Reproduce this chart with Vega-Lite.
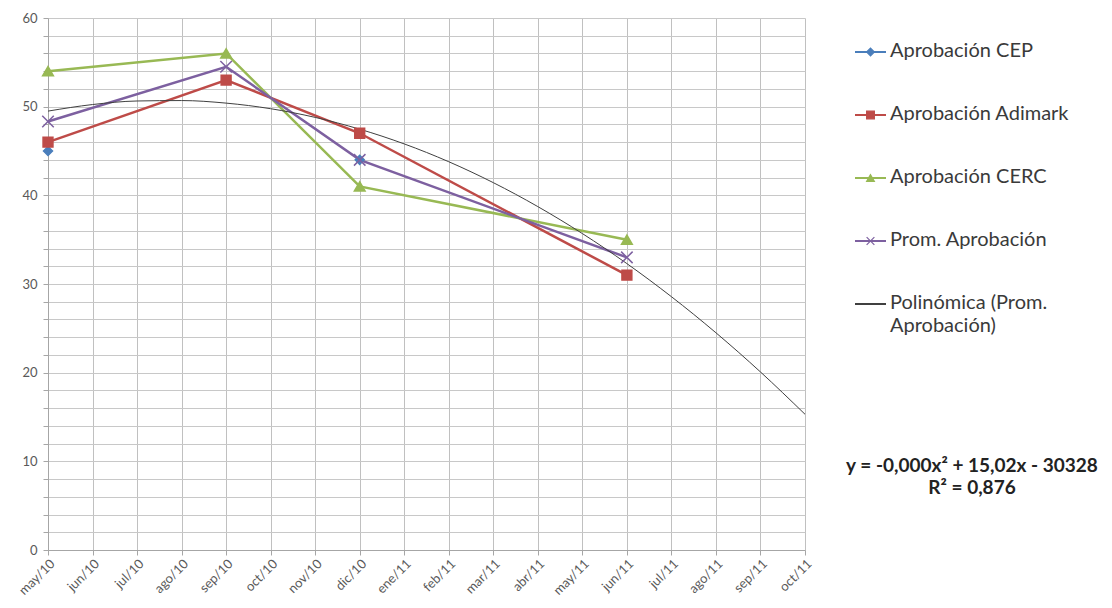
{
  "$schema": "https://vega.github.io/schema/vega-lite/v6.json",
  "padding": {"left": 16, "top": 12, "right": 0, "bottom": 0},
  "spacing": 30,
  "config": {
    "view": {"stroke": null},
    "font": "Lato",
    "axis": {"labelFont": "Lato", "labelFontSize": 13, "labelColor": "#595959", "domainColor": "#a6a6a6", "tickColor": "#a6a6a6", "gridColor": "#c8c8c8", "gridWidth": 1, "title": null}
  },
  "datasets": {
    "obs": [
      {"month": "may/10", "series": "Aprobación CEP", "value": 45},
      {"month": "dic/10", "series": "Aprobación CEP", "value": 44},
      {"month": "may/10", "series": "Aprobación Adimark", "value": 46},
      {"month": "sep/10", "series": "Aprobación Adimark", "value": 53},
      {"month": "dic/10", "series": "Aprobación Adimark", "value": 47},
      {"month": "jun/11", "series": "Aprobación Adimark", "value": 31},
      {"month": "may/10", "series": "Aprobación CERC", "value": 54},
      {"month": "sep/10", "series": "Aprobación CERC", "value": 56},
      {"month": "dic/10", "series": "Aprobación CERC", "value": 41},
      {"month": "jun/11", "series": "Aprobación CERC", "value": 35},
      {"month": "may/10", "series": "Prom. Aprobación", "value": 48.33},
      {"month": "sep/10", "series": "Prom. Aprobación", "value": 54.5},
      {"month": "dic/10", "series": "Prom. Aprobación", "value": 44},
      {"month": "jun/11", "series": "Prom. Aprobación", "value": 33}
    ],
    "trend": [
      {"month": "may/10", "value": 49.5},
      {"month": "jun/10", "value": 50.24},
      {"month": "jul/10", "value": 50.64},
      {"month": "ago/10", "value": 50.69},
      {"month": "sep/10", "value": 50.4},
      {"month": "oct/10", "value": 49.77},
      {"month": "nov/10", "value": 48.79},
      {"month": "dic/10", "value": 47.46},
      {"month": "ene/11", "value": 45.8},
      {"month": "feb/11", "value": 43.79},
      {"month": "mar/11", "value": 41.43},
      {"month": "abr/11", "value": 38.73},
      {"month": "may/11", "value": 35.69},
      {"month": "jun/11", "value": 32.3},
      {"month": "jul/11", "value": 28.57},
      {"month": "ago/11", "value": 24.5},
      {"month": "sep/11", "value": 20.08},
      {"month": "oct/11", "value": 15.31}
    ],
    "legend": [
      {"series": "Aprobación CEP", "label": "Aprobación CEP"},
      {"series": "Aprobación Adimark", "label": "Aprobación Adimark"},
      {"series": "Aprobación CERC", "label": "Aprobación CERC"},
      {"series": "Prom. Aprobación", "label": "Prom. Aprobación"},
      {"series": "Polinómica (Prom. Aprobación)", "label": ["Polinómica (Prom.", "Aprobación)"]},
      {"series": "eq", "label": ["y = -0,000x² + 15,02x - 30328", "R² = 0,876"]}
    ]
  },
  "hconcat": [
    {
      "width": 757,
      "height": 532,
      "encoding": {
        "x": {"field": "month", "type": "nominal", "sort": null,
          "scale": {"type": "point", "padding": 0, "domain": ["may/10","jun/10","jul/10","ago/10","sep/10","oct/10","nov/10","dic/10","ene/11","feb/11","mar/11","abr/11","may/11","jun/11","jul/11","ago/11","sep/11","oct/11"]},
          "axis": {"grid": true, "labelAngle": -45, "tickSize": 5, "labelPadding": 2, "gridColor": "#c0c0c0"}},
        "y": {"field": "value", "type": "quantitative",
          "scale": {"domain": [0, 60], "nice": false},
          "axis": {"values": [0,2,4,6,8,10,12,14,16,18,20,22,24,26,28,30,32,34,36,38,40,42,44,46,48,50,52,54,56,58,60], "labelExpr": "datum.value % 10 === 0 ? datum.label : ''", "labelOverlap": false, "tickSize": 5, "labelPadding": 6}}
      },
      "layer": [
        {
          "data": {"name": "obs"},
          "transform": [{"filter": "datum.series !== 'Aprobación CEP'"}],
          "mark": {"type": "line", "strokeWidth": 2.5},
          "encoding": {
            "color": {"field": "series", "type": "nominal", "legend": null,
              "scale": {"domain": ["Aprobación CEP","Aprobación Adimark","Aprobación CERC","Prom. Aprobación","Polinómica (Prom. Aprobación)"], "range": ["#4A7EBB","#BE4B48","#98B954","#7D60A0","#404040"]}},
            "order": {"field": "series", "sort": "ascending"}
          }
        },
        {
          "data": {"name": "trend"},
          "mark": {"type": "line", "strokeWidth": 1, "color": "#404040", "interpolate": "monotone"},
          "encoding": {}
        },
        {
          "data": {"name": "obs"},
          "mark": {"type": "point", "filled": true, "strokeWidth": 1.5, "opacity": 1},
          "encoding": {
            "fill": {"field": "series", "type": "nominal", "legend": null,
              "scale": {"domain": ["Aprobación CEP","Aprobación Adimark","Aprobación CERC","Prom. Aprobación","Polinómica (Prom. Aprobación)"], "range": ["#4A7EBB","#BE4B48","#98B954","#7D60A0","#404040"]}},
            "stroke": {"field": "series", "type": "nominal", "legend": null,
              "scale": {"domain": ["Aprobación CEP","Aprobación Adimark","Aprobación CERC","Prom. Aprobación","Polinómica (Prom. Aprobación)"], "range": ["#4A7EBB","#BE4B48","#98B954","#7D60A0","#404040"]}},
            "shape": {"field": "series", "type": "nominal", "legend": null,
              "scale": {"domain": ["Aprobación CEP","Aprobación Adimark","Aprobación CERC","Prom. Aprobación","Polinómica (Prom. Aprobación)"], "range": ["diamond","square","triangle-up","M-1,-1L1,1M-1,1L1,-1","M0,0"]}},
            "size": {"field": "series", "type": "nominal", "legend": null,
              "scale": {"domain": ["Aprobación CEP","Aprobación Adimark","Aprobación CERC","Prom. Aprobación","Polinómica (Prom. Aprobación)"], "range": [80, 150, 110, 80, 10]}}
          }
        }
      ]
    },
    {
      "width": 255,
      "height": 532,
      "data": {"name": "legend"},
      "layer": [
        {
          "transform": [{"filter": "datum.series !== 'eq'"}],
          "mark": {"type": "rule", "strokeWidth": 2},
          "encoding": {
            "y": {"field": "series", "type": "nominal", "axis": null, "sort": null,
              "scale": {"type": "point", "padding": 0, "range": [34, 475], "domain": ["Aprobación CEP","Aprobación Adimark","Aprobación CERC","Prom. Aprobación","Polinómica (Prom. Aprobación)","g1","g2","eq"]}},
            "x": {"datum": 0, "type": "quantitative", "axis": null, "scale": {"domain": [0, 255], "nice": false, "zero": false}},
            "x2": {"datum": 31},
            "color": {"field": "series", "type": "nominal", "legend": null,
              "scale": {"domain": ["Aprobación CEP","Aprobación Adimark","Aprobación CERC","Prom. Aprobación","Polinómica (Prom. Aprobación)"], "range": ["#4A7EBB","#BE4B48","#98B954","#7D60A0","#595959"]}}
          }
        },
        {
          "transform": [{"filter": "datum.series !== 'eq' && datum.series !== 'Polinómica (Prom. Aprobación)'"}],
          "mark": {"type": "point", "filled": true, "strokeWidth": 1.2, "opacity": 1},
          "encoding": {
            "y": {"field": "series", "type": "nominal", "sort": null},
            "x": {"datum": 15.5, "type": "quantitative"},
            "fill": {"field": "series", "type": "nominal", "legend": null,
              "scale": {"domain": ["Aprobación CEP","Aprobación Adimark","Aprobación CERC","Prom. Aprobación"], "range": ["#4A7EBB","#BE4B48","#98B954","#7D60A0"]}},
            "stroke": {"field": "series", "type": "nominal", "legend": null,
              "scale": {"domain": ["Aprobación CEP","Aprobación Adimark","Aprobación CERC","Prom. Aprobación"], "range": ["#4A7EBB","#BE4B48","#98B954","#7D60A0"]}},
            "shape": {"field": "series", "type": "nominal", "legend": null,
              "scale": {"domain": ["Aprobación CEP","Aprobación Adimark","Aprobación CERC","Prom. Aprobación"], "range": ["diamond","square","triangle-up","M-1,-1L1,1M-1,1L1,-1"]}},
            "size": {"value": 60}
          }
        },
        {
          "transform": [{"filter": "datum.series !== 'eq'"}],
          "mark": {"type": "text", "align": "left", "baseline": "middle", "fontSize": 20, "font": "Lato", "color": "#3a3a3a", "lineHeight": 23, "dy": -1},
          "encoding": {
            "y": {"field": "series", "type": "nominal", "sort": null},
            "x": {"datum": 35, "type": "quantitative"},
            "text": {"field": "label"}
          }
        },
        {
          "transform": [{"filter": "datum.series === 'eq'"}],
          "mark": {"type": "text", "align": "center", "baseline": "middle", "fontSize": 19, "fontWeight": "bold", "font": "Lato", "color": "#222222", "lineHeight": 22, "dy": -27},
          "encoding": {
            "y": {"field": "series", "type": "nominal", "sort": null},
            "x": {"datum": 117, "type": "quantitative"},
            "text": {"field": "label"}
          }
        }
      ]
    }
  ]
}
